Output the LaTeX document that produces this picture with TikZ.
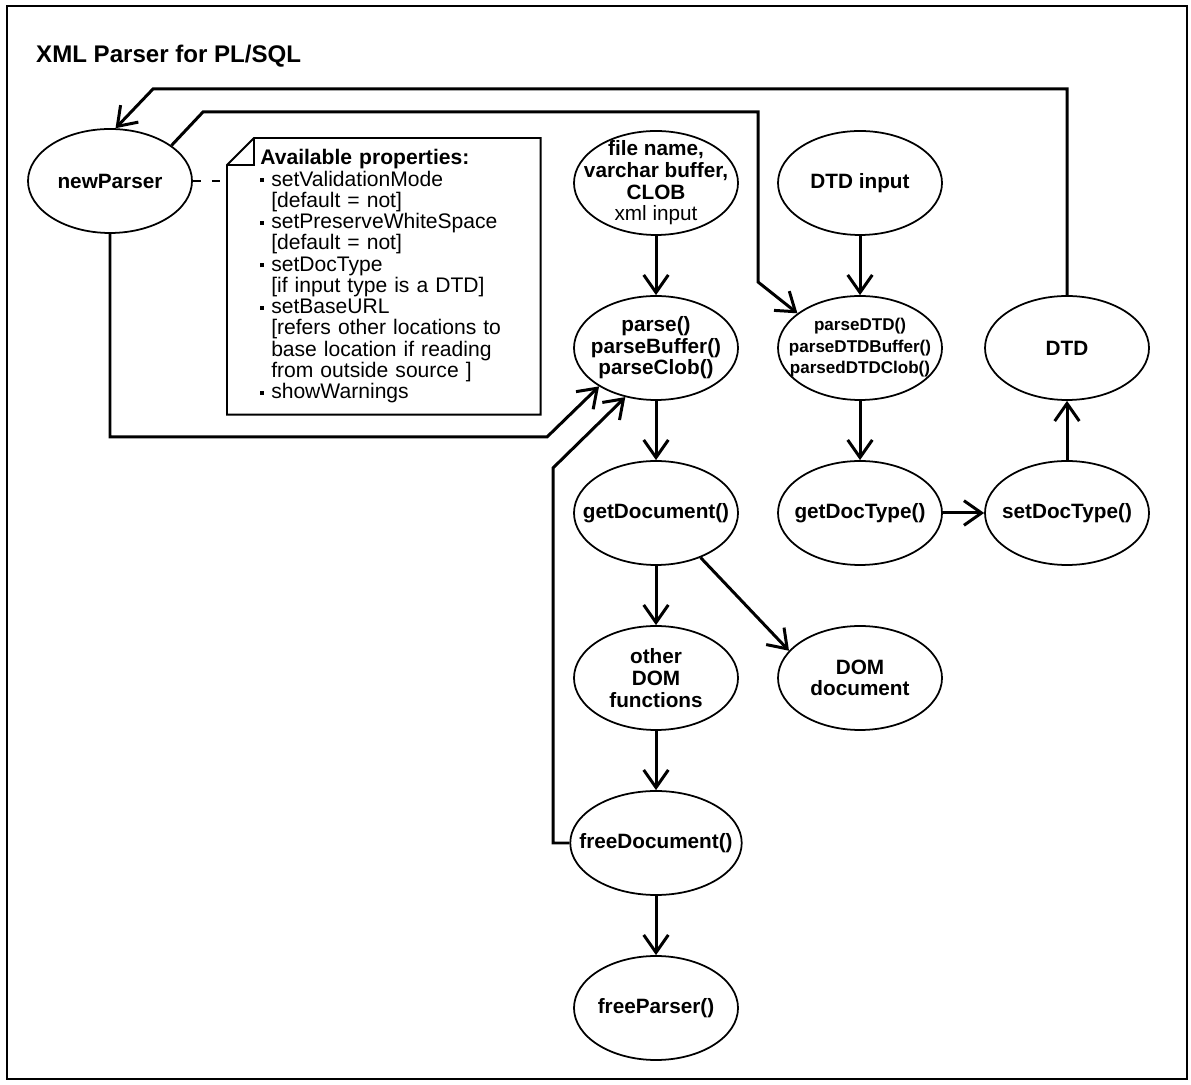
\documentclass[tikz,border=0pt]{standalone}
\usepackage{fontspec}
\setmainfont{Liberation Sans}
\usetikzlibrary{arrows.meta,shapes.geometric}
\newcommand{\notebul}{\makebox[6.2pt][l]{\rule[2.2pt]{2.2pt}{2.2pt}}}
\newcommand{\noteind}{\hspace*{6.2pt}}

\begin{document}
\begin{tikzpicture}[
  oval/.style={ellipse,draw,line width=1pt,minimum width=3.28cm,minimum height=2.08cm,inner xsep=-0.32cm,inner ysep=-0.16cm,align=center,font=\fontsize{11.8}{12.3}\selectfont\bfseries},  smalloval/.style={oval,font=\fontsize{9.7}{12.2}\selectfont\bfseries},  conn/.style={line width=1.7pt,-{Straight Barb[length=10pt,width=14pt]}},  notetext/.style={anchor=north west,minimum width=6.26cm,minimum height=5.52cm,text width=4.94cm,inner xsep=0.66cm,align=left,font=\fontsize{12}{12.1}\selectfont},  notebox/.style={line width=1.1pt},  dashlink/.style={line width=1.5pt,dash pattern=on 4.5pt off 6.3pt}
]
  \useasboundingbox (0,0) rectangle (23.820,21.680);
  \draw[line width=1.4pt] (0.140,0.100) rectangle (23.740,21.560);
  \node[anchor=west,font=\fontsize{13.7}{16}\selectfont\bfseries] (title) at (0.600,20.560) {XML Parser for PL/SQL};
  \node[oval] (newp) at (2.200,18.060) {newParser};
  \node[oval] (xmlin) at (13.120,18.020) {file name,\\varchar buffer,\\CLOB\\{\mdseries xml input}};
  \node[oval] (dtdin) at (17.200,18.020) {DTD input};
  \node[oval] (parse) at (13.120,14.720) {parse()\\parseBuffer()\\parseClob()};
  \node[smalloval] (pdtd) at (17.200,14.720) {parseDTD()\\parseDTDBuffer()\\parsedDTDClob()};
  \node[oval] (dtd) at (21.340,14.720) {DTD};
  \node[oval] (getdoc) at (13.120,11.420) {getDocument()};
  \node[oval] (getdt) at (17.200,11.420) {getDocType()};
  \node[oval] (setdt) at (21.340,11.420) {setDocType()};
  \node[oval] (otherdom) at (13.120,8.120) {other\\DOM\\functions};
  \node[oval] (domdoc) at (17.200,8.120) {DOM\\document};
  \node[oval] (freedoc) at (13.120,4.820) {freeDocument()};
  \node[oval] (freep) at (13.120,1.520) {freeParser()};
  \node[notetext] (note) at (4.540,18.920) {\textbf{Available properties:}\\
    \notebul setValidationMode\\
    \noteind [default = not]\\
    \notebul setPreserveWhiteSpace\\
    \noteind [default = not]\\
    \notebul setDocType\\
    \noteind [if input type is a DTD]\\
    \notebul setBaseURL\\
    \noteind [refers other locations to\\
    \noteind base location if reading\\
    \noteind from outside source ]\\
    \notebul showWarnings};
  \coordinate (c1) at (3.060,19.900);
  \coordinate (c2) at (4.060,19.440);
  \coordinate (c3) at (15.160,16.040);
  \coordinate (c4) at (10.940,12.940);
  \coordinate (c5) at (11.060,12.320);
  % note outline with folded corner
  \draw[notebox] ([xshift=0.54cm]note.north west) -- (note.north east) -- (note.south east) -- (note.south west) -- ([yshift=-0.54cm]note.north west) -- cycle;
  \draw[notebox] ([yshift=-0.54cm]note.north west) -| ([xshift=0.54cm]note.north west);
  \draw[dashlink] (newp.east) -- (newp.east -| note.west);
  % main flow
  \draw[conn] (xmlin) -- (parse);
  \draw[conn] (parse) -- (getdoc);
  \draw[conn] (getdoc) -- (otherdom);
  \draw[conn] (otherdom) -- (freedoc);
  \draw[conn] (freedoc) -- (freep);
  \draw[conn] (getdoc.-45) -- (domdoc.159);
  \draw[conn] (dtdin) -- (pdtd);
  \draw[conn] (pdtd) -- (getdt);
  \draw[conn] (getdt) -- (setdt);
  \draw[conn] (setdt) -- (dtd);
  % loops
  \draw[conn] (dtd.north) |- (c1) -- (newp.84);
  \draw[conn] (newp.30) -- (c2) -| (c3) -- (pdtd.151);
  \draw[conn] (newp.south) |- (c4) -- (parse.214);
  \draw[conn] (freedoc.west) -| (c5) -- (parse.238);
\end{tikzpicture}
\end{document}
